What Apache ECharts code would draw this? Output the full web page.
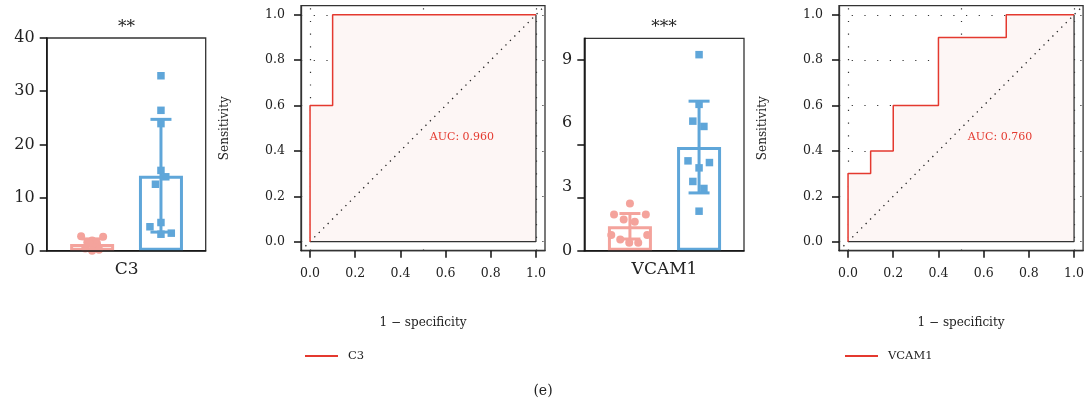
<!DOCTYPE html>
<html><head><meta charset="utf-8">
<script src="https://cdn.jsdelivr.net/npm/echarts@6/dist/echarts.min.js"></script>
<style>html,body{margin:0;padding:0;background:#fff}#c{width:1087px;height:409px}</style>
</head><body><div id="c"></div>
<script>
// ---------- data ----------
const genes = ['C3', 'VCAM1'];
const sigLabels = ['**', '***'];
// group positions on the bar panels (1 = control, 2 = case)
const groupPos = [1, 2];
// C3 bar panel
const c3Means = [1.27, 14.1];
const c3Sds = [0.95, 10.6];
const c3Low = [2.7, 2.6, 1.9, 1.6, 1.4, 1.3, 0.6, 0.4, 0.2, 0.0];
const c3LowJitter = [-0.16, 0.16, 0, -0.07, 0.07, -0.04, 0.04, -0.1, 0.1, 0];
const c3High = [32.9, 26.4, 23.9, 15.1, 13.9, 12.5, 5.3, 4.5, 3.3, 3.1];
const c3HighJitter = [0, 0, 0, 0, 0.07, -0.08, 0, -0.16, 0.15, 0];
const c3YTicks = [0, 10, 20, 30, 40];
// VCAM1 bar panel
const vcMeans = [1.15, 4.88];
const vcSds = [0.6, 2.16];
const vcLow = [2.22, 1.71, 1.71, 1.47, 1.36, 0.74, 0.74, 0.53, 0.38, 0.38];
const vcLowJitter = [0, -0.23, 0.23, -0.09, 0.07, -0.27, 0.25, -0.14, -0.01, 0.12];
const vcHigh = [9.23, 6.89, 6.1, 5.85, 4.23, 4.15, 3.9, 3.26, 2.93, 1.86];
const vcHighJitter = [0, 0, -0.09, 0.07, -0.16, 0.15, 0, -0.09, 0.07, 0];
const vcYLabels = [0, 3, 6, 9];
const vcYTickMarks = [0, 2.5, 5, 9];
// ROC curves (1 - specificity, sensitivity)
const c3RocX = [0, 0, 0.1, 0.1, 1];
const c3RocY = [0, 0.6, 0.6, 1, 1];
const vcRocX = [0, 0, 0.1, 0.1, 0.2, 0.2, 0.4, 0.4, 0.7, 0.7, 1];
const vcRocY = [0, 0.3, 0.3, 0.4, 0.4, 0.6, 0.6, 0.9, 0.9, 1, 1];
const aucValues = [0.960, 0.760];
const rocTicks = [0, 0.2, 0.4, 0.6, 0.8, 1.0];
const rocGridH = [0, 0.2, 0.4, 0.6, 0.8, 1.0];
const rocGridV = [0, 0.5, 1.0];

// ---------- style ----------
const PINK = '#f4a39c', BLUE = '#5fa6d9', RED = '#e4392f', FILL = '#fdf6f5';
const SERIF = 'DejaVu Serif';
const R0 = -0.04, R1 = 1.04;

const chart = echarts.init(document.getElementById('c'));

const grids = [
  {left: 46.7, top: 38, width: 159, height: 212.7},
  {left: 301, top: 5.7, width: 244, height: 245},
  {left: 584.3, top: 38.3, width: 159.7, height: 212.4},
  {left: 839, top: 5.7, width: 245.3, height: 245}
].map(g => Object.assign({show: true, borderColor: '#333', borderWidth: 1.3, backgroundColor: 'transparent'}, g));

function barX(gi, gene) {
  return {
    type: 'value', gridIndex: gi, min: 0.34, max: 2.65, z: 5,
    axisLine: {show: true, lineStyle: {color: '#111', width: 1.5}},
    axisTick: {show: false}, splitLine: {show: false},
    axisLabel: {customValues: [1.5], formatter: () => gene, fontFamily: SERIF, fontSize: 17, color: '#222', margin: 10}
  };
}
function rocX(gi) {
  return {
    type: 'value', gridIndex: gi, min: R0, max: R1,
    name: '1 \u2212 specificity', nameLocation: 'middle', nameGap: 66,
    nameTextStyle: {fontFamily: SERIF, fontSize: 12, color: '#222'},
    axisLine: {show: true, onZero: false, lineStyle: {color: '#333', width: 1.3}},
    axisTick: {customValues: rocTicks, inside: false, length: 7, lineStyle: {color: '#111', width: 1.5}},
    axisLabel: {customValues: rocTicks, formatter: v => v.toFixed(1), fontFamily: SERIF, fontSize: 12.5, color: '#222', margin: 17},
    splitLine: {show: false}
  };
}
function rocY(gi) {
  return {
    type: 'value', gridIndex: gi, min: R0, max: R1,
    name: 'Sensitivity', nameLocation: 'middle', nameGap: 70, nameRotate: 90,
    nameTextStyle: {fontFamily: SERIF, fontSize: 12, color: '#222'},
    axisLine: {show: true, onZero: false, lineStyle: {color: '#333', width: 1.3}},
    axisTick: {customValues: rocTicks, inside: false, length: 7, lineStyle: {color: '#111', width: 1.5}},
    axisLabel: {customValues: rocTicks, formatter: v => v.toFixed(1), fontFamily: SERIF, fontSize: 12.5, color: '#222', margin: 16},
    splitLine: {show: false}
  };
}

const xAxes = [barX(0, genes[0]), rocX(1), barX(2, genes[1]), rocX(3)];
const yAxes = [
  {type: 'value', gridIndex: 0, min: 0, max: 40, interval: 10,
   axisLine: {show: true, lineStyle: {color: '#111', width: 1.5}},
   axisTick: {show: true, length: 7, lineStyle: {color: '#111', width: 1.5}},
   axisLabel: {fontFamily: SERIF, fontSize: 16, color: '#222', margin: 12},
   splitLine: {show: false}},
  rocY(1),
  {type: 'value', gridIndex: 2, min: 0, max: 10,
   axisLine: {show: true, lineStyle: {color: '#111', width: 1.5}},
   axisTick: {show: true, customValues: vcYTickMarks, length: 7, lineStyle: {color: '#111', width: 1.5}},
   axisLabel: {customValues: vcYLabels, fontFamily: SERIF, fontSize: 16, color: '#222', margin: 12},
   splitLine: {show: false}},
  rocY(3)
];

function barSeries(ai, means) {
  return {
    type: 'bar', name: 'bar' + ai, xAxisIndex: ai, yAxisIndex: ai, barWidth: 44, z: 2,
    data: means.map((m, i) => ({value: [groupPos[i], m],
      itemStyle: {color: '#fff', borderColor: i === 0 ? PINK : BLUE, borderWidth: 3}})),
    silent: true
  };
}
function errSeries(ai, means, sds) {
  return {
    type: 'custom', name: 'err' + ai, xAxisIndex: ai, yAxisIndex: ai, z: 3, silent: true,
    data: means.map((m, i) => [groupPos[i], m - sds[i], m + sds[i], i]),
    renderItem: (params, api) => {
      const lo = api.coord([api.value(0), api.value(1)]);
      const hi = api.coord([api.value(0), api.value(2)]);
      const col = api.value(3) === 0 ? PINK : BLUE;
      const hw = 10.5;
      const st = {stroke: col, lineWidth: 3};
      return {type: 'group', children: [
        {type: 'line', shape: {x1: lo[0], y1: lo[1], x2: hi[0], y2: hi[1]}, style: st},
        {type: 'line', shape: {x1: hi[0] - hw, y1: hi[1], x2: hi[0] + hw, y2: hi[1]}, style: st},
        {type: 'line', shape: {x1: lo[0] - hw, y1: lo[1], x2: lo[0] + hw, y2: lo[1]}, style: st}
      ]};
    }
  };
}
function pointSeries(ai, gi, vals, jit, sym, col, size) {
  return {
    type: 'scatter', name: 'pts' + ai + '_' + gi, xAxisIndex: ai, yAxisIndex: ai, z: 4, silent: true,
    symbol: sym, symbolSize: size, itemStyle: {color: col, opacity: 1},
    data: vals.map((v, i) => [groupPos[gi] + jit[i], v])
  };
}
function rocSeries(ai, name, xs, ys, auc) {
  const pts = xs.map((x, i) => [x, ys[i]]);
  const gridLines = rocGridH.map(h => [{coord: [R0, h]}, {coord: [R1, h]}])
    .concat(rocGridV.map(v => [{coord: [v, R0]}, {coord: [v, R1]}]));
  return [
    {type: 'line', name: 'grid' + ai, xAxisIndex: ai, yAxisIndex: ai, z: 1, silent: true,
     data: [], symbol: 'none',
     markLine: {silent: true, z: 1, symbol: 'none', label: {show: false}, animation: false,
       lineStyle: {color: '#333', type: [1.2, 11.5], width: 1.2}, data: gridLines}},
    {type: 'line', name: 'area' + ai, xAxisIndex: ai, yAxisIndex: ai, z: 2, silent: true,
     data: pts, symbol: 'none', lineStyle: {width: 0}, areaStyle: {color: FILL, opacity: 1, origin: 0}},
    {type: 'line', name: 'diag' + ai, xAxisIndex: ai, yAxisIndex: ai, z: 3, silent: true,
     data: [[R0, R0], [R1, R1]], symbol: 'none', lineStyle: {color: '#222', width: 1.3, type: [1.3, 5]}},
    {type: 'line', name: 'border' + ai, xAxisIndex: ai, yAxisIndex: ai, z: 3, silent: true,
     data: [[xs[0], 0], [xs[xs.length - 1], 0], [xs[xs.length - 1], ys[ys.length - 1]]],
     symbol: 'none', lineStyle: {color: '#333', width: 1.3}},
    {type: 'line', name: name, xAxisIndex: ai, yAxisIndex: ai, z: 4, silent: true,
     data: pts, symbol: 'none', color: RED, lineStyle: {color: RED, width: 1.5},
     markPoint: {silent: true, symbol: 'rect', symbolSize: 0,
       data: [{coord: [0.53, 0.46], value: auc}],
       label: {show: true, position: 'right', distance: 0, formatter: 'AUC: ' + auc.toFixed(3),
         fontFamily: SERIF, fontSize: 11, color: RED}}}
  ];
}

const series = [
  barSeries(0, c3Means), errSeries(0, c3Means, c3Sds),
  pointSeries(0, 0, c3Low, c3LowJitter, 'circle', PINK, 8),
  pointSeries(0, 1, c3High, c3HighJitter, 'rect', BLUE, 7.5),
  ...rocSeries(1, genes[0], c3RocX, c3RocY, aucValues[0]),
  barSeries(2, vcMeans), errSeries(2, vcMeans, vcSds),
  pointSeries(2, 0, vcLow, vcLowJitter, 'circle', PINK, 8),
  pointSeries(2, 1, vcHigh, vcHighJitter, 'rect', BLUE, 7.5),
  ...rocSeries(3, genes[1], vcRocX, vcRocY, aucValues[1])
];

const legendBase = {orient: 'horizontal', top: 345, itemWidth: 33, itemHeight: 2, icon: 'rect',
  itemStyle: {color: RED},
  textStyle: {fontFamily: SERIF, fontSize: 11.5, color: '#222', padding: [0, 0, 0, 5]},
  selectedMode: false};

chart.setOption({
  animation: false,
  grid: grids,
  xAxis: xAxes,
  yAxis: yAxes,
  series: series,
  legend: [
    Object.assign({left: 300, data: [genes[0]]}, legendBase),
    Object.assign({left: 840, data: [genes[1]]}, legendBase)
  ],
  graphic: [
    {type: 'text', x: 126.5, y: 28, style: {text: sigLabels[0], fontFamily: SERIF, fontSize: 17, fill: '#222', align: 'center', verticalAlign: 'middle'}},
    {type: 'text', x: 664, y: 28, style: {text: sigLabels[1], fontFamily: SERIF, fontSize: 17, fill: '#222', align: 'center', verticalAlign: 'middle'}},
    {type: 'text', x: 543, y: 391, style: {text: '(e)', fontFamily: SERIF, fontSize: 14, fill: '#222', align: 'center', verticalAlign: 'middle'}}
  ]
});
</script></body></html>
